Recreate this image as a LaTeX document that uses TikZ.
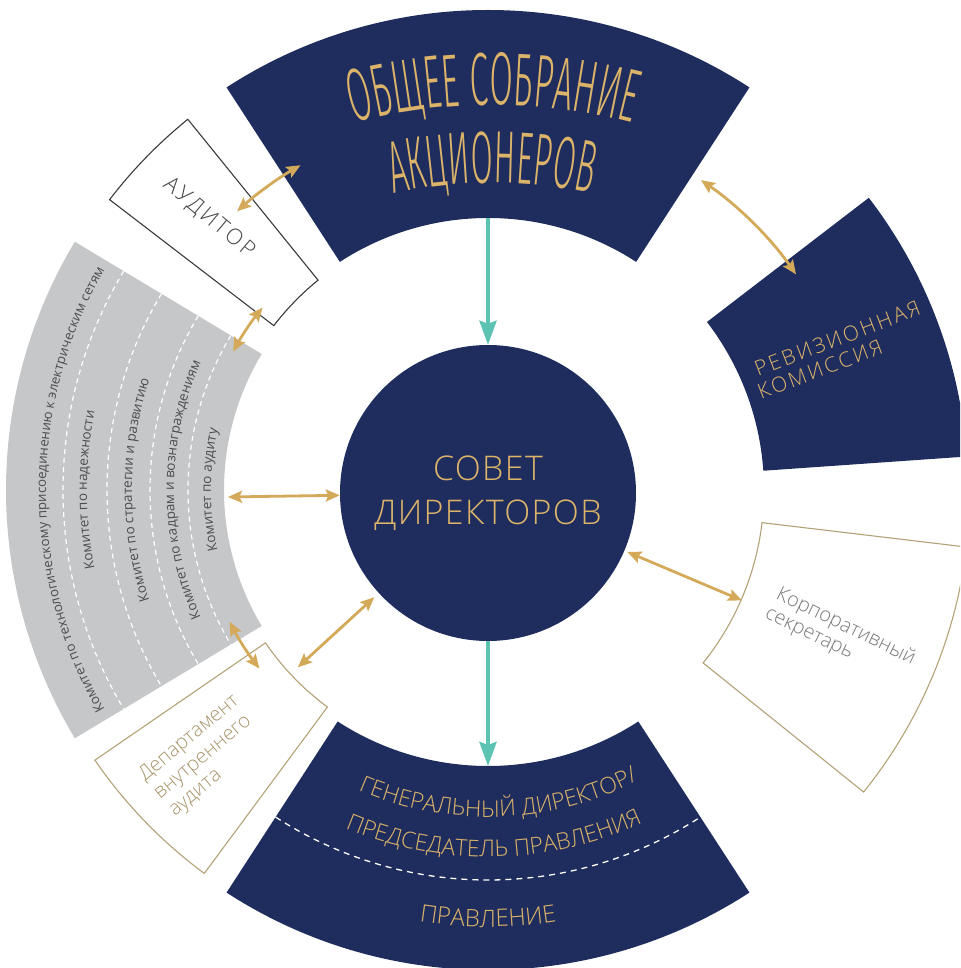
\documentclass[tikz,border=0pt]{standalone}
\usepackage{fontspec}
\IfFontExistsTF{Open Sans Light}{%
  \setmainfont{Open Sans Light}%
  \newfontfamily\lsfont[LetterSpace=12]{Open Sans Light}%
  \newfontfamily\lsfontb[LetterSpace=4]{Open Sans Light}%
}{%
  \setmainfont{Open Sans}%
  \newfontfamily\lsfont[LetterSpace=12]{Open Sans}%
  \newfontfamily\lsfontb[LetterSpace=4]{Open Sans}%
}
\newfontfamily\commfont{Open Sans}
\IfFontExistsTF{Fira Sans Light}{%
  \newfontfamily\titlefont[FakeStretch=0.455]{Fira Sans Light}%
  \newfontfamily\titlefontb[FakeStretch=0.435]{Fira Sans Light}%
}{%
  \newfontfamily\titlefont[FakeStretch=0.455]{Fira Sans}%
  \newfontfamily\titlefontb[FakeStretch=0.435]{Fira Sans}%
}
\usetikzlibrary{arrows.meta,decorations.text}
\definecolor{navy}{HTML}{1F2C5E}
\definecolor{goldtxt}{HTML}{DCB469}
\definecolor{goldarr}{HTML}{D4AA5A}
\definecolor{tealc}{HTML}{5CC3B2}
\definecolor{greysec}{HTML}{C6C7C9}
\definecolor{commtxt}{HTML}{4D4D4D}
\definecolor{tanline}{HTML}{B3A276}
\definecolor{tantxt}{HTML}{A8956B}
\definecolor{corptxt}{HTML}{7A7A7A}
\definecolor{audline}{HTML}{3A3A3A}
\definecolor{audtxt}{HTML}{454545}
\newcommand{\ringsect}[4]{(#1:#3) arc[start angle=#1,end angle=#2,radius=#3] -- (#2:#4) arc[start angle=#2,end angle=#1,radius=#4] -- cycle}
\begin{document}
\begin{tikzpicture}[x=1pt,y=1pt,
  goldarrow/.style={draw=goldarr, line width=2.8pt, {Stealth[length=14pt,width=12pt,inset=2.5pt]}-{Stealth[length=14pt,width=12pt,inset=2.5pt]}},
  tealarrow/.style={draw=tealc, line width=4pt, -{Stealth[length=24pt,width=17pt,inset=3pt]}},
  boxline/.style={line width=1.1pt},
  arctext/.style={decorate, decoration={text along path, text align=center, text={#1}}},
  revtext/.style={inner sep=0pt, anchor=base west, rotate=21, text=goldtxt, font=\lsfont\fontsize{21}{24}\selectfont},
  corptext/.style={inner sep=0pt, anchor=base west, rotate=-26, text=corptxt, font=\fontsize{20}{23}\selectfont},
  deptext/.style={inner sep=0pt, anchor=base west, rotate=40, text=tantxt, font=\fontsize{20}{23}\selectfont},
  commdash/.style={white, line width=1.2pt, dash pattern=on 5pt off 4pt},
]
\useasboundingbox (-488,-478) rectangle (472,490);
\clip (-488,-478) rectangle (472,490);

% sectors
\fill[navy] \ringsect{57}{123}{272pt}{480pt};
\fill[navy] \ringsect{4}{37.5}{276pt}{480pt};
\fill[navy] \ringsect{237}{303}{276pt}{480pt};
\fill[greysec] \ringsect{149}{211}{264pt}{482pt};
\draw[audline, boxline] \ringsect{129}{142.5}{270pt}{477pt};
\draw[tanline, boxline] \ringsect{214.5}{233.5}{270pt}{477pt};
\draw[tanline, boxline] \ringsect{321.2}{353.2}{276pt}{482pt};

% committee separators
\foreach \r in {300,338,381,425}{
  \draw[commdash] (149:\r pt) arc[start angle=149,end angle=211,radius=\r pt];
}
% bottom separator
\draw[white, line width=1.3pt, dash pattern=on 6pt off 5pt] (237:390pt) arc[start angle=237,end angle=303,radius=390pt];

% central circle
\node[circle, fill=navy, minimum size=296pt, inner sep=0pt, text=goldtxt, align=center,
      font=\lsfontb\fontsize{34}{44}\selectfont] (sovet) at (0,-3) {СОВЕТ\\ДИРЕКТОРОВ};

% title text
\path[arctext={|\titlefont\fontsize{75}{75}\selectfont\color{goldtxt}|ОБЩЕЕ СОБРАНИЕ}]
  ([shift={(5,-170)}]120:555pt) arc[start angle=120,end angle=60,radius=555pt];
\path[arctext={|\titlefontb\fontsize{74}{74}\selectfont\color{goldtxt}|АКЦИОНЕРОВ}]
  ([shift={(4,-170)}]120:477pt) arc[start angle=120,end angle=60,radius=477pt];

% bottom texts
\path[arctext={|\fontsize{23}{23}\selectfont\color{goldtxt}|ГЕНЕРАЛЬНЫЙ ДИРЕКТОР/}]
  (241:327pt) arc[start angle=241,end angle=303,radius=327pt];
\path[arctext={|\fontsize{23}{23}\selectfont\color{goldtxt}|ПРЕДСЕДАТЕЛЬ ПРАВЛЕНИЯ}]
  (240:367pt) arc[start angle=240,end angle=302,radius=367pt];
\path[arctext={|\fontsize{24}{24}\selectfont\color{goldtxt}|ПРАВЛЕНИЕ}]
  (250:437pt) arc[start angle=250,end angle=290,radius=437pt];

% committee texts
\path[arctext={|\commfont\fontsize{13.3}{13.3}\selectfont\color{commtxt}|Комитет по технологическому присоединению к электрическим сетям}]
  (215:442pt) arc[start angle=215,end angle=145,radius=442pt];
\path[arctext={|\commfont\fontsize{13.5}{13.5}\selectfont\color{commtxt}|Комитет по надежности}]
  (211:401pt) arc[start angle=211,end angle=149,radius=401pt];
\path[arctext={|\commfont\fontsize{13.5}{13.5}\selectfont\color{commtxt}|Комитет по стратегии и развитию}]
  (211:356pt) arc[start angle=211,end angle=149,radius=356pt];
\path[arctext={|\commfont\fontsize{13.5}{13.5}\selectfont\color{commtxt}|Комитет по кадрам и вознаграждениям}]
  (214:314pt) arc[start angle=214,end angle=146,radius=314pt];
\path[arctext={|\commfont\fontsize{13.5}{13.5}\selectfont\color{commtxt}|Комитет по аудиту}]
  (211:277pt) arc[start angle=211,end angle=149,radius=277pt];

% box texts
\node[revtext] (rev1) at (270,113) {РЕВИЗИОННАЯ};
\node[revtext] (rev2) at (273,90) {КОМИССИЯ};
\node[corptext] (corp1) at (287,-108) {Корпоративный};
\node[corptext] (corp2) at (276,-127) {секретарь};
\node[deptext] (dep1) at (-343,-292) {Департамент};
\node[deptext] (dep2) at (-328,-310) {внутреннего};
\node[deptext] (dep3) at (-313,-327) {аудита};
\node[rotate=-40, text=audtxt, font=\lsfont\fontsize{22}{22}\selectfont] (aud) at (-279,272) {АУДИТОР};

% connector coordinates
\coordinate (topin) at (90:272pt);
\coordinate (botin) at (270:276pt);
\coordinate (ta) at (120:375pt);
\coordinate (tr) at (55.5:376pt);
\coordinate (ag) at (141:290pt);
\coordinate (gd) at (207:290pt);
\coordinate (gc) at (-260,-7);
\coordinate (dc) at (223:260pt);
\coordinate (cc) at (-23.5:277pt);

% teal arrows
\draw[tealarrow] (topin) -- (sovet.north);
\draw[tealarrow] (sovet.south) -- (botin);

% gold arrows
\draw[goldarrow] (ta) arc[start angle=120,end angle=132,radius=375pt];
\draw[goldarrow] (tr) arc[start angle=55.5,end angle=35,radius=376pt];
\draw[goldarrow] (ag) arc[start angle=141,end angle=151.5,radius=290pt];
\draw[goldarrow] (gd) arc[start angle=207,end angle=218,radius=290pt];
\draw[goldarrow] (gc) -- (sovet);
\draw[goldarrow, shorten >=6pt] (dc) -- (sovet);
\draw[goldarrow, shorten <=3pt] (sovet) -- (cc);
\end{tikzpicture}
\end{document}
